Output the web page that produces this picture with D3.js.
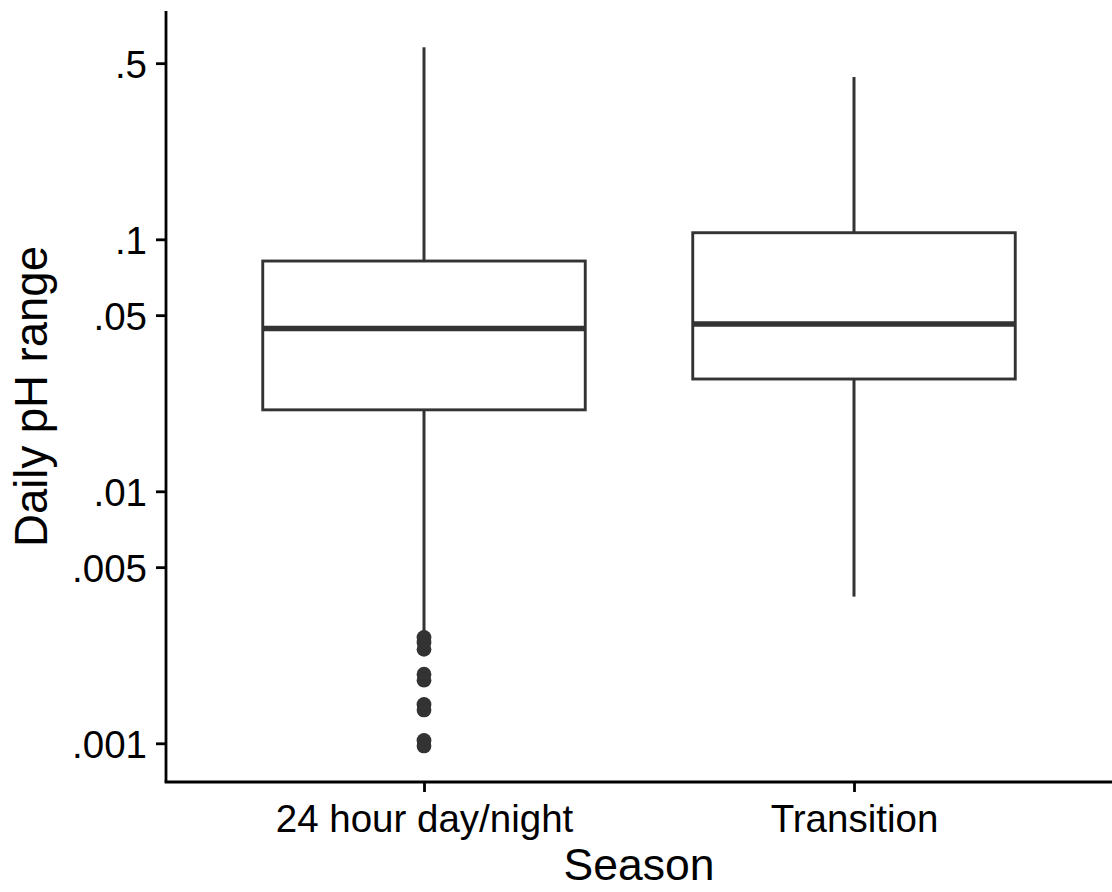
<!DOCTYPE html>
<html>
<head>
<meta charset="utf-8">
<script src="https://cdn.jsdelivr.net/npm/d3@7"></script>
<style>
  html, body { margin: 0; padding: 0; background: #ffffff; }
  svg { display: block; }
  text { font-family: "Liberation Sans", Arial, Helvetica, sans-serif; }
</style>
</head>
<body>
<svg id="chart" width="1112" height="892"></svg>
<script>
// Season categories along the x axis
const seasons = ["24 hour day/night", "Transition"];

// Box statistics per season (daily pH range)
const whiskerLow  = [0.00274, 0.00382];
const q1          = [0.02105, 0.02790];
const median      = [0.04426, 0.04613];
const q3          = [0.08200, 0.10620];
const whiskerHigh = [0.578,   0.4406];

// Outlying days (24 hour day/night season only)
const outlierSeason = ["24 hour day/night", "24 hour day/night", "24 hour day/night",
  "24 hour day/night", "24 hour day/night", "24 hour day/night", "24 hour day/night",
  "24 hour day/night", "24 hour day/night"];
const outlierValue = [0.00263, 0.00251, 0.00236, 0.00188, 0.00178, 0.001426, 0.001356, 0.001026, 0.000976];

// Log-axis ticks and their labels
const yTicks      = [0.001, 0.005, 0.01, 0.05, 0.1, 0.5];
const yTickLabels = [".001", ".005", ".01", ".05", ".1", ".5"];

const svg = d3.select("#chart");
const panel = { left: 166, right: 1112, top: 11, bottom: 782 };

const x = d3.scalePoint()
  .domain(seasons)
  .range([panel.left, panel.right])
  .padding(0.6);

const y = d3.scaleLog()
  .domain([Math.pow(10, -3.1536), Math.pow(10, -0.094)])
  .range([panel.bottom, panel.top]);

const boxW = x.step() * 0.75;
const ink = "#333333";

const boxes = seasons.map((s, i) => ({
  season: s, lo: whiskerLow[i], q1: q1[i], med: median[i], q3: q3[i], hi: whiskerHigh[i]
}));

const g = svg.append("g");

// whiskers
g.selectAll("line.whisker-up").data(boxes).join("line")
  .attr("x1", d => x(d.season)).attr("x2", d => x(d.season))
  .attr("y1", d => y(d.q3)).attr("y2", d => y(d.hi))
  .attr("stroke", ink).attr("stroke-width", 3);
g.selectAll("line.whisker-down").data(boxes).join("line")
  .attr("x1", d => x(d.season)).attr("x2", d => x(d.season))
  .attr("y1", d => y(d.q1)).attr("y2", d => y(d.lo))
  .attr("stroke", ink).attr("stroke-width", 3);

// boxes
g.selectAll("rect.box").data(boxes).join("rect")
  .attr("x", d => x(d.season) - boxW / 2)
  .attr("width", boxW)
  .attr("y", d => y(d.q3))
  .attr("height", d => y(d.q1) - y(d.q3))
  .attr("fill", "#ffffff")
  .attr("stroke", ink)
  .attr("stroke-width", 2.9);

// medians
g.selectAll("line.median").data(boxes).join("line")
  .attr("x1", d => x(d.season) - boxW / 2)
  .attr("x2", d => x(d.season) + boxW / 2)
  .attr("y1", d => y(d.med)).attr("y2", d => y(d.med))
  .attr("stroke", ink).attr("stroke-width", 5.6);

// outliers
g.selectAll("circle.outlier").data(outlierValue.map((v, i) => ({ s: outlierSeason[i], v })))
  .join("circle")
  .attr("cx", d => x(d.s))
  .attr("cy", d => y(d.v))
  .attr("r", 7.4)
  .attr("fill", ink);

// y axis
const yAxis = d3.axisLeft(y)
  .tickValues(yTicks)
  .tickFormat((d, i) => yTickLabels[i])
  .tickSize(10)
  .tickPadding(9);
const ya = svg.append("g")
  .attr("transform", `translate(${panel.left},0)`)
  .call(yAxis);
ya.select(".domain").attr("d", `M0,${panel.top}V${panel.bottom}`)
  .attr("stroke", "#000").attr("stroke-width", 2.8);
ya.selectAll(".tick line").attr("stroke", "#000").attr("stroke-width", 2.8);
ya.selectAll(".tick text")
  .attr("font-size", 38.5)
  .attr("fill", "#000")
  .attr("dy", "0.36em");

// x axis
const xAxis = d3.axisBottom(x).tickSize(10).tickPadding(8);
const xa = svg.append("g")
  .attr("transform", `translate(0,${panel.bottom})`)
  .call(xAxis);
xa.select(".domain").attr("d", `M${panel.left - 1.4},0H${panel.right}`)
  .attr("stroke", "#000").attr("stroke-width", 2.8);
xa.selectAll(".tick line").attr("stroke", "#000").attr("stroke-width", 2.8);
xa.selectAll(".tick text")
  .attr("font-size", 38.5)
  .attr("fill", "#000")
  .attr("dy", "0")
  .attr("y", 50);

// axis titles
svg.append("text")
  .attr("x", (panel.left + panel.right) / 2)
  .attr("y", 880)
  .attr("text-anchor", "middle")
  .attr("font-size", 44.5)
  .attr("fill", "#000")
  .text("Season");

svg.append("text")
  .attr("transform", `translate(47,${(panel.top + panel.bottom) / 2}) rotate(-90)`)
  .attr("text-anchor", "middle")
  .attr("font-size", 45.5)
  .attr("fill", "#000")
  .text("Daily pH range");
</script>
</body>
</html>
